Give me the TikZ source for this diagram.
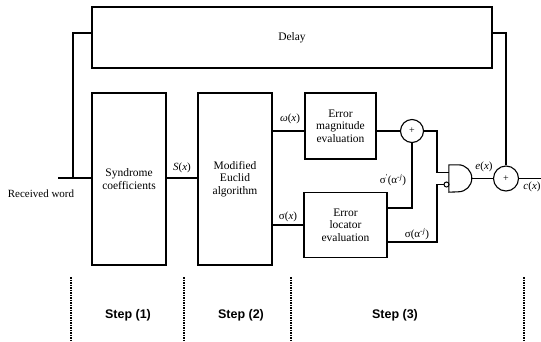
\documentclass[tikz,border=0pt]{standalone}
\usepackage{fontspec}
\setmainfont{Liberation Serif}
\newfontfamily\stepfont{Liberation Sans}
\begin{document}
\begin{tikzpicture}[x=1pt,y=-1pt,
  blk/.style={draw,line width=1.1pt,inner sep=0pt,align=center,font=\fontsize{11.5}{12.5}\selectfont},
  adder/.style={draw,circle,line width=1.1pt,minimum size=23pt,inner sep=0pt,font=\fontsize{10}{10}\selectfont},
  gatebox/.style={inner sep=0pt,minimum width=23pt,minimum height=27pt},
  bubble/.style={draw,circle,line width=1pt,minimum size=5pt,inner sep=0pt},
  wire/.style={line width=1.1pt},
  lbl/.style={font=\fontsize{11}{11}\selectfont,inner sep=0pt},
  sep/.style={line width=1.2pt,dash pattern=on 1.5pt off 1pt},
  steplbl/.style={font=\stepfont\bfseries\fontsize{12.5}{12.5}\selectfont,inner sep=0pt}]
\useasboundingbox (0,0) rectangle (541,341);

\node[blk,minimum width=400pt,minimum height=61pt,line width=1.3pt] (delay) at (292,37.5) {Delay};
\node[blk,minimum width=74pt,minimum height=172pt] (syn) at (129,179) {Syndrome\\coefficients};
\node[blk,minimum width=74pt,minimum height=172pt] (euc) at (235,179) {Modified\\Euclid\\algorithm};
\node[blk,minimum width=71pt,minimum height=66pt] (mag) at (340.5,126) {Error\\magnitude\\evaluation};
\node[blk,minimum width=83pt,minimum height=65pt] (loc) at (345.5,225) {Error\\locator\\evaluation};
\node[adder] (add1) at (412,131) {+};
\node[gatebox] (g) at (460.5,178.5) {};
\draw[wire] (g.north west) -- ++(9.5,0) arc[start angle=90,end angle=-90,radius=13.5pt] -- (g.south west) -- cycle;
\node[bubble] (bub) at (446.5,184.5) {};
\node[adder,minimum size=25pt] (add2) at (506,178.5) {+};

\coordinate (rin) at (58,178);
\coordinate (fl) at (73,178);
\coordinate (flt) at (73,33);
\coordinate (frt) at (506,33);
\coordinate (j1) at (437,131);
\coordinate (j2) at (437,242);
\coordinate (j3) at (412,208);
\coordinate (gi1) at (449,172.5);
\coordinate (cout) at (541,178.5);

\draw[wire] (rin) -- (syn.west |- rin);
\draw[wire] (fl) -- (flt) -- (delay.west |- flt);
\draw[wire] (syn.east |- rin) -- (euc.west |- rin);
\draw[wire] (euc.east |- add1) -- (mag.west |- add1);
\draw[wire] (euc.east |- loc) -- (loc.west);
\draw[wire] (mag.east |- add1) -- (add1);
\draw[wire] (loc.east |- j3) -- (j3) -- (add1);
\draw[wire] (add1) -- (j1) |- (gi1);
\draw[wire] (loc.east |- j2) -- (j2) |- (bub);
\draw[wire] (g.east) -- (add2);
\draw[wire] (add2) -- (cout);
\draw[wire] (delay.east |- frt) -- (frt) -- (add2);

\node[lbl] at (41,194) {Received word};
\node[lbl] at (182,168) {\textit{S}(\textit{x})};
\node[lbl] at (290,119) {\textit{ω}(\textit{x})};
\node[lbl] at (288,217) {σ(\textit{x})};
\node[lbl] at (393,180) {σ\textsuperscript{\textquotesingle}(α\textsuperscript{-\textit{j}})};
\node[lbl] at (417,234) {σ(α\textsuperscript{-\textit{j}})};
\node[lbl] at (484,167) {\textit{e}(\textit{x})};
\node[lbl] at (532,187) {\textit{c}(\textit{x})};

\draw[sep] (71,277) -- (71,341);
\draw[sep] (184,277) -- (184,341);
\draw[sep] (291,277) -- (291,341);
\draw[sep] (524,277) -- (524,341);
\node[steplbl] at (128,315) {Step (1)};
\node[steplbl] at (241,315) {Step (2)};
\node[steplbl] at (395,315) {Step (3)};
\end{tikzpicture}
\end{document}
